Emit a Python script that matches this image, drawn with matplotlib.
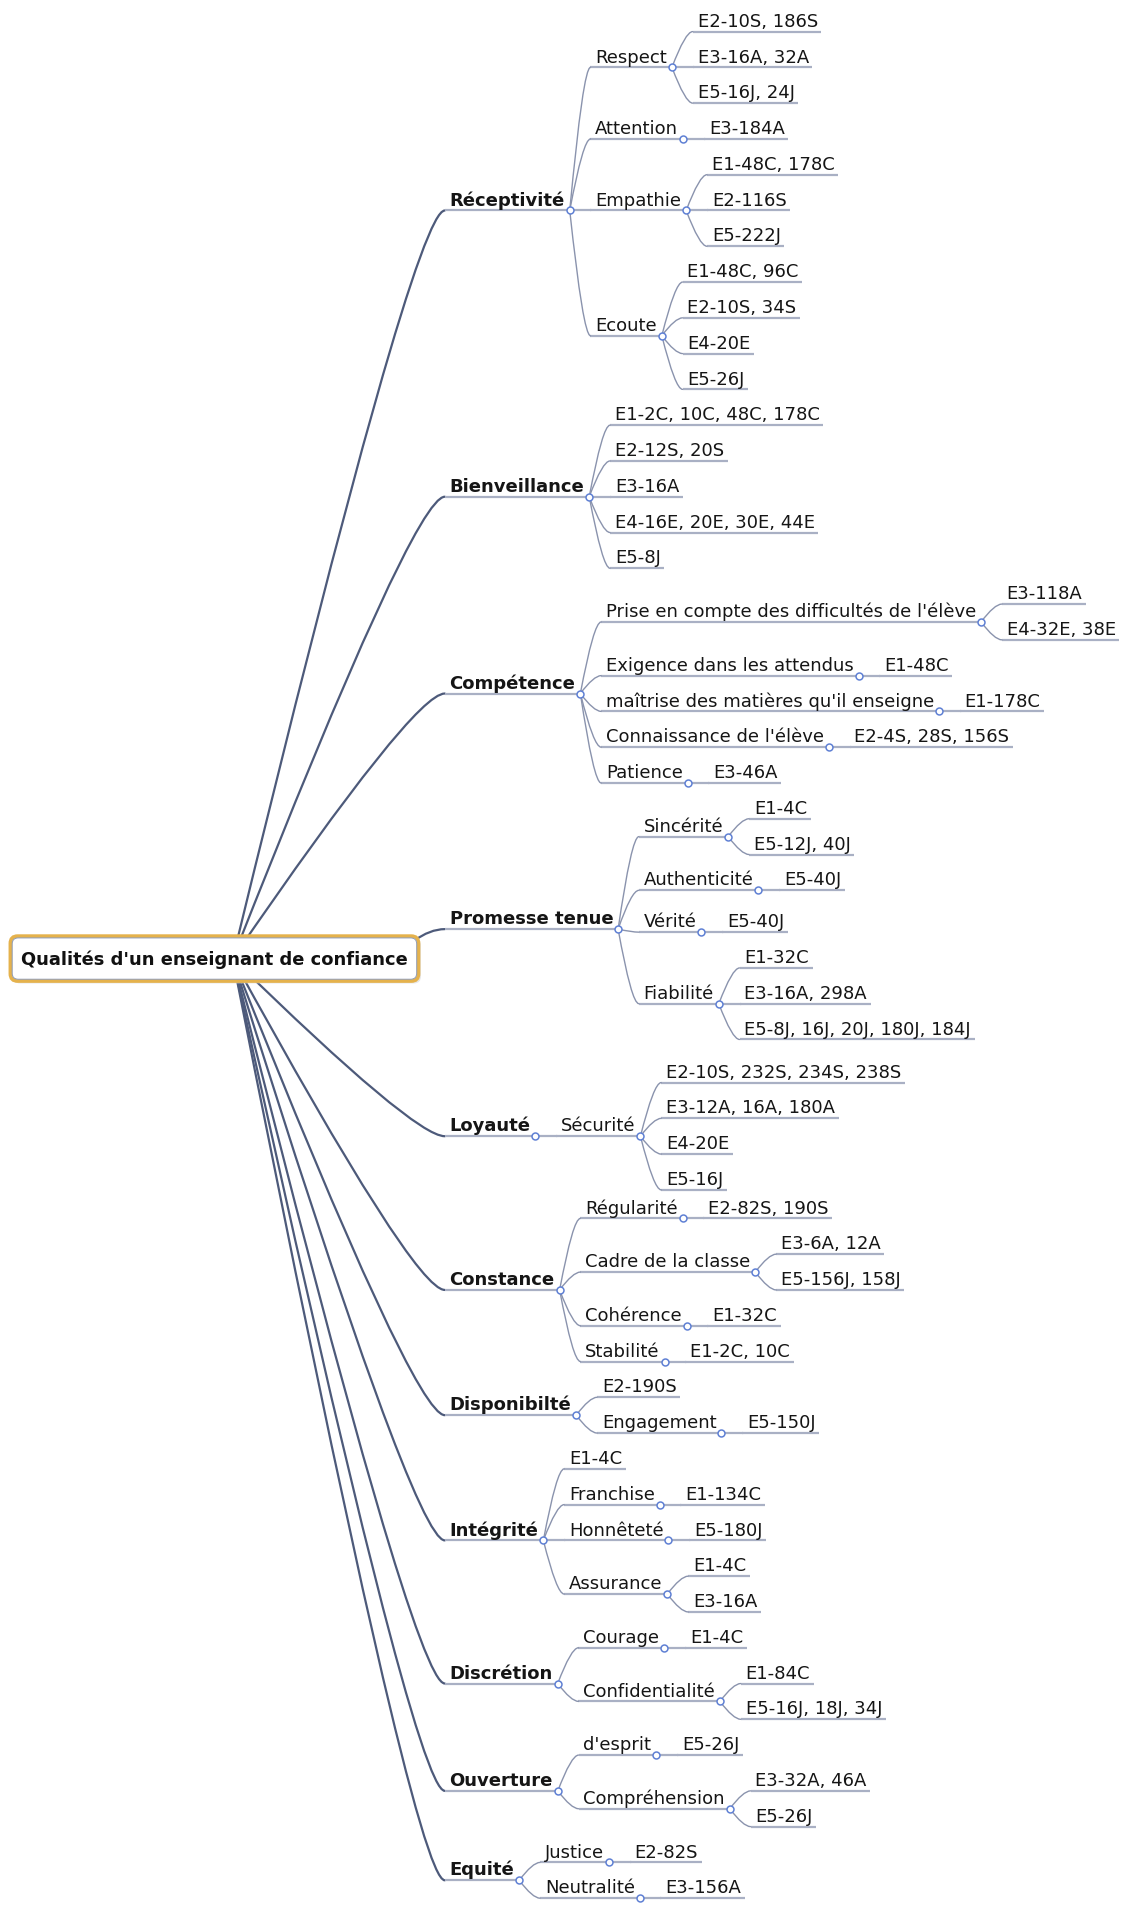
import matplotlib
matplotlib.use("Agg")
import matplotlib.pyplot as plt
from matplotlib.font_manager import FontProperties
from matplotlib.patches import FancyBboxPatch, PathPatch
from matplotlib.path import Path

# ---- data: the mind map, one list per main branch ----
root_label = "Qualités d'un enseignant de confiance"

receptivite = ["Réceptivité", [
    ["Respect", ["E2-10S, 186S", "E3-16A, 32A", "E5-16J, 24J"]],
    ["Attention", ["E3-184A"]],
    ["Empathie", ["E1-48C, 178C", "E2-116S", "E5-222J"]],
    ["Ecoute", ["E1-48C, 96C", "E2-10S, 34S", "E4-20E", "E5-26J"]],
]]
bienveillance = ["Bienveillance", ["E1-2C, 10C, 48C, 178C", "E2-12S, 20S", "E3-16A",
                                   "E4-16E, 20E, 30E, 44E", "E5-8J"]]
competence = ["Compétence", [
    ["Prise en compte des difficultés de l'élève", ["E3-118A", "E4-32E, 38E"]],
    ["Exigence dans les attendus", ["E1-48C"]],
    ["maîtrise des matières qu'il enseigne", ["E1-178C"]],
    ["Connaissance de l'élève", ["E2-4S, 28S, 156S"]],
    ["Patience", ["E3-46A"]],
]]
promesse = ["Promesse tenue", [
    ["Sincérité", ["E1-4C", "E5-12J, 40J"]],
    ["Authenticité", ["E5-40J"]],
    ["Vérité", ["E5-40J"]],
    ["Fiabilité", ["E1-32C", "E3-16A, 298A", "E5-8J, 16J, 20J, 180J, 184J"]],
]]
loyaute = ["Loyauté", [
    ["Sécurité", ["E2-10S, 232S, 234S, 238S", "E3-12A, 16A, 180A", "E4-20E", "E5-16J"]],
]]
constance = ["Constance", [
    ["Régularité", ["E2-82S, 190S"]],
    ["Cadre de la classe", ["E3-6A, 12A", "E5-156J, 158J"]],
    ["Cohérence", ["E1-32C"]],
    ["Stabilité", ["E1-2C, 10C"]],
]]
disponibilite = ["Disponibilté", [
    "E2-190S",
    ["Engagement", ["E5-150J"]],
]]
integrite = ["Intégrité", [
    "E1-4C",
    ["Franchise", ["E1-134C"]],
    ["Honnêteté", ["E5-180J"]],
    ["Assurance", ["E1-4C", "E3-16A"]],
]]
discretion = ["Discrétion", [
    ["Courage", ["E1-4C"]],
    ["Confidentialité", ["E1-84C", "E5-16J, 18J, 34J"]],
]]
ouverture = ["Ouverture", [
    ["d'esprit", ["E5-26J"]],
    ["Compréhension", ["E3-32A, 46A", "E5-26J"]],
]]
equite = ["Equité", [
    ["Justice", ["E2-82S"]],
    ["Neutralité", ["E3-156A"]],
]]
branches = [receptivite, bienveillance, competence, promesse, loyaute, constance,
            disponibilite, integrite, discretion, ouverture, equite]

# ---- layout settings ----
W, H = 920, 1568            # drawing units
MAIN_X = 365                # where main branches start
ROW0, ROW = 26, 29.45       # first leaf row, leaf spacing
extra_gap = {"Vérité": 5, "Loyauté": 6, "Constance": -6}
TXT_PAD, JUNC_PAD, GAP, TAIL = 4, 4, 17, 3
FS, FS_ROOT = 13, 13.5

fig = plt.figure(figsize=(11.21, 19.05), dpi=100)
ax = fig.add_axes([0, 0, 1, 1])
ax.set_xlim(0, W)
ax.set_ylim(H, 0)
ax.axis("off")
renderer = fig.canvas.get_renderer()
px2x = W / (fig.get_figwidth() * fig.dpi)


def text_w(s, bold=False, size=FS):
    prop = FontProperties(family="DejaVu Sans", size=size, weight="bold" if bold else "normal")
    w, h, d = renderer.get_text_width_height_descent(s, prop, ismath=False)
    return w * px2x


cursor = [ROW0]


def layout(node, x, depth):
    label, kids = (node, []) if isinstance(node, str) else node
    cursor[0] += extra_gap.get(label, 0)
    w = text_w(label, depth == 1)
    rec = {"label": label, "x": x, "depth": depth}
    if not kids:
        rec["y"] = rec["lo"] = rec["hi"] = cursor[0]
        cursor[0] += ROW
        rec["end"] = x + TXT_PAD + w + TAIL
        rec["kids"] = []
    else:
        jx = x + TXT_PAD + w + JUNC_PAD
        subs = [layout(k, jx + GAP, depth + 1) for k in kids]
        rec["lo"], rec["hi"] = subs[0]["lo"], subs[-1]["hi"]
        rec["y"] = (rec["lo"] + rec["hi"]) / 2
        rec["end"] = jx
        rec["kids"] = subs
    return rec


mains = [layout(b, MAIN_X, 1) for b in branches]


def curve(p0, c, p1, color, lw, z):
    path = Path([p0, c, p1], [Path.MOVETO, Path.CURVE3, Path.CURVE3])
    ax.add_patch(PathPatch(path, fc="none", ec=color, lw=lw, zorder=z, capstyle="round"))


def draw(rec):
    y = rec["y"]
    ax.plot([rec["x"], rec["end"]], [y, y], color="#a9b0c4", lw=1.6, zorder=2,
            solid_capstyle="butt")
    ax.text(rec["x"] + TXT_PAD, y - 4, rec["label"], fontsize=FS, color="#151515",
            fontweight="bold" if rec["depth"] == 1 else "normal",
            ha="left", va="baseline", zorder=5)
    if rec["kids"]:
        jx = rec["end"]
        for k in rec["kids"]:
            if abs(k["y"] - y) < 0.5:
                ax.plot([jx, k["x"]], [y, y], color="#a9b0c4", lw=1.6, zorder=2)
            else:
                cx = jx + 0.65 * (k["x"] - jx)
                curve((jx, y), (cx, k["y"]), (k["x"], k["y"]), "#8a93ad", 1.0, 3)
            draw(k)
        ax.plot(jx, y, "o", ms=5, mfc="white", mec="#5f80d4", mew=1.1, zorder=6)


for m in mains:
    draw(m)

# ---- root node ----
root_w = text_w(root_label, True, FS_ROOT)
fs_root = FS_ROOT * 317 / root_w
rcx, rcy = 176, 789
bw, bh = 335, 37
ox, oy = rcx + 15, rcy
for m in mains:
    if abs(m["y"] - rcy) < bh:
        # branch leaving from the right side of the box
        curve((rcx + bw / 2 - 4, rcy - bh / 2 + 4), (MAIN_X - 12, m["y"]), (MAIN_X, m["y"]),
              "#4d5a7a", 1.6, 1)
    else:
        curve((ox, oy), (MAIN_X - 25, m["y"]), (MAIN_X, m["y"]), "#4d5a7a", 1.6, 1)

ax.add_patch(FancyBboxPatch((rcx - bw / 2 + 2, rcy - bh / 2 + 2), bw, bh,
                            boxstyle="round,pad=0,rounding_size=6",
                            fc="#d8d8d8", ec="none", alpha=0.6, zorder=7))
ax.add_patch(FancyBboxPatch((rcx - bw / 2, rcy - bh / 2), bw, bh,
                            boxstyle="round,pad=0,rounding_size=6",
                            fc="white", ec="#e5b24c", lw=2.6, zorder=8))
ax.add_patch(FancyBboxPatch((rcx - bw / 2 + 1.5, rcy - bh / 2 + 1.5), bw - 3, bh - 3,
                            boxstyle="round,pad=0,rounding_size=5",
                            fc="none", ec="#8d9ab4", lw=0.7, zorder=9))
ax.text(rcx, rcy + 1, root_label, fontsize=fs_root, fontweight="bold", color="#111111",
        ha="center", va="center", zorder=10)

fig.savefig("out.png", dpi=100, facecolor="white")
